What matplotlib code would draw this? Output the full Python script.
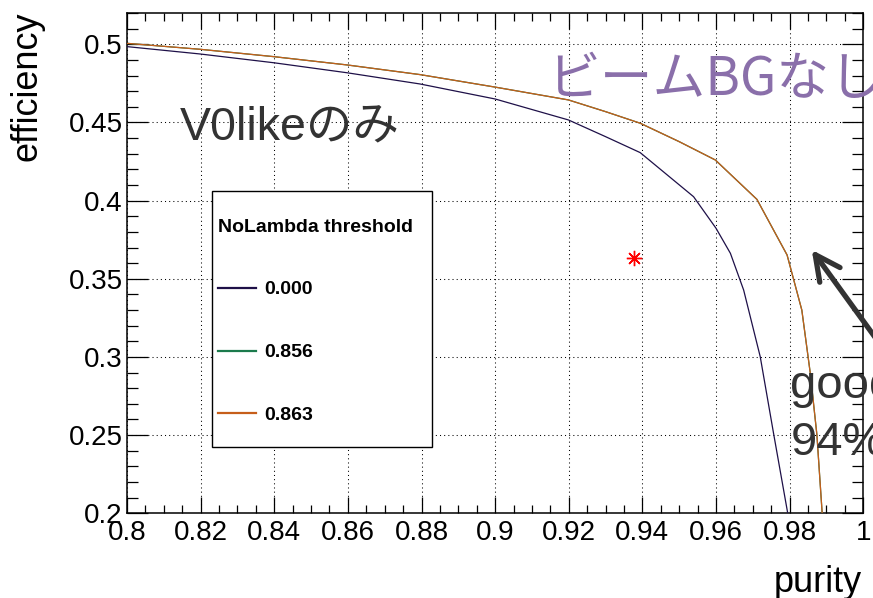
import matplotlib
matplotlib.use("Agg")
import matplotlib.pyplot as plt
from matplotlib.ticker import FixedLocator, MultipleLocator
from matplotlib.patches import Rectangle

# ---- data -------------------------------------------------------------
purity_000 = [0.8000, 0.8198, 0.8398, 0.8597, 0.8796, 0.9000, 0.9199, 0.9300,
              0.9394, 0.9539, 0.9600, 0.9639, 0.9675, 0.9720, 0.9757, 0.9794, 0.9799]
eff_000 = [0.4985, 0.4938, 0.4882, 0.4818, 0.4746, 0.4650, 0.4516, 0.4409,
           0.4307, 0.4025, 0.3823, 0.3663, 0.3428, 0.3002, 0.2501, 0.2010, 0.1920]

purity_856 = [0.8000, 0.8198, 0.8398, 0.8597, 0.8796, 0.9000, 0.9199, 0.9300,
              0.9394, 0.9500, 0.9598, 0.9711, 0.9793, 0.9833, 0.9856, 0.9874,
              0.9888, 0.9891]
eff_856 = [0.5006, 0.4968, 0.4921, 0.4868, 0.4806, 0.4726, 0.4644, 0.4569,
           0.4495, 0.4377, 0.4260, 0.4008, 0.3652, 0.3300, 0.2896, 0.2501,
           0.2010, 0.1920]

purity_863 = [0.8000, 0.8198, 0.8398, 0.8597, 0.8796, 0.9000, 0.9199, 0.9300,
              0.9394, 0.9500, 0.9598, 0.9711, 0.9793, 0.9833, 0.9856, 0.9874,
              0.9888, 0.9891]
eff_863 = [0.5006, 0.4968, 0.4921, 0.4868, 0.4806, 0.4726, 0.4644, 0.4569,
           0.4495, 0.4377, 0.4260, 0.4008, 0.3652, 0.3300, 0.2896, 0.2501,
           0.2010, 0.1920]

labels = ["0.000", "0.856", "0.863"]
legend_title = "NoLambda threshold"

point_purity = [0.9376]
point_eff = [0.3631]

xticks = [0.80, 0.82, 0.84, 0.86, 0.88, 0.90, 0.92, 0.94, 0.96, 0.98, 1.00]
xticklabels = ["0.8", "0.82", "0.84", "0.86", "0.88", "0.9", "0.92", "0.94", "0.96", "0.98", "1"]
yticks = [0.20, 0.25, 0.30, 0.35, 0.40, 0.45, 0.50]
yticklabels = ["0.2", "0.25", "0.3", "0.35", "0.4", "0.45", "0.5"]

# ---- figure ---------------------------------------------------------
latin = ["Liberation Sans", "Noto Sans CJK JP"]
plt.rcParams["font.family"] = latin

W, H = 873, 598
fig = plt.figure(figsize=(W / 100, H / 100), dpi=100)
L, R, T, B = 127, 863.3, 13.0, 513.3
ax = fig.add_axes([L / W, 1 - B / H, (R - L) / W, (B - T) / H])


def ax_x(px):
    return (px - L) / (R - L)


def ax_y(py):
    return (B - py) / (B - T)


ax.set_xlim(0.8, 1.0)
ax.set_ylim(0.2, 0.52)

c_navy = "#1e1048"
c_green = "#1b7a4c"
c_orange = "#c65e1a"

ax.plot(purity_000, eff_000, color=c_navy, lw=0.9, label=labels[0], zorder=3)
ax.plot(purity_856, eff_856, color=c_green, lw=0.9, label=labels[1], zorder=3)
ax.plot(purity_863, eff_863, color=c_orange, lw=0.9, label=labels[2], zorder=3)
ax.plot(point_purity, point_eff, linestyle="none", marker=(8, 2, 0),
        markersize=11, markeredgewidth=1.0, color="red", zorder=4)

# ticks
ax.xaxis.set_major_locator(FixedLocator(xticks))
ax.set_xticklabels(xticklabels)
ax.yaxis.set_major_locator(FixedLocator(yticks))
ax.set_yticklabels(yticklabels)
ax.xaxis.set_minor_locator(MultipleLocator(0.005))
ax.yaxis.set_minor_locator(MultipleLocator(0.01))
ax.tick_params(axis="both", which="both", direction="in", top=True, right=True,
               width=0.9, color="black")
ax.tick_params(axis="x", which="major", length=11.5, labelsize=20, pad=5)
ax.tick_params(axis="x", which="minor", length=6)
ax.tick_params(axis="y", which="major", length=15, labelsize=20, pad=3)
ax.tick_params(axis="y", which="minor", length=8)
for s in ax.spines.values():
    s.set_linewidth(1.1)

ax.grid(True, which="major", color="black", linewidth=0.75,
        linestyle=(0, (1, 3)))
ax.set_axisbelow(True)

# axis labels
ax.set_xlabel("purity", fontsize=26, loc="right")
ax.xaxis.set_label_coords(ax_x(862), ax_y(565))
ax.set_ylabel("efficiency", fontsize=26, loc="top")
ax.yaxis.set_label_coords(ax_x(45), ax_y(11))

# legend box + legend
box = Rectangle((ax_x(211.7), ax_y(447.3)), ax_x(432.3) - ax_x(211.7),
                ax_y(190.7) - ax_y(447.3), transform=ax.transAxes,
                facecolor="white", edgecolor="black", linewidth=1.0, zorder=5)
ax.add_patch(box)
leg = ax.legend(title=legend_title, loc="upper left",
                bbox_to_anchor=(ax_x(218), ax_y(218.5)),
                borderaxespad=0, frameon=False, borderpad=0,
                labelspacing=2.33, handlelength=1.95, handletextpad=0.45,
                alignment="left",
                prop={"family": "Liberation Sans", "weight": "bold", "size": 14},
                title_fontproperties={"family": "Liberation Sans", "weight": "bold",
                                      "size": 14})
leg.set_zorder(6)
for ln in leg.get_lines():
    ln.set_linewidth(1.6)

# annotations
ax.text(0.8144, 0.4388, "V0likeのみ", fontsize=33.5, color="#333333",
        va="baseline", ha="left", family=latin)
ax.text(0.9140, 0.4676, "ビームBGなし", fontsize=38, color="#8a6faa",
        va="baseline", ha="left", family=["Noto Sans CJK JP", "DejaVu Sans"])
ax.text(0.9802, 0.2737, "good", fontsize=34, color="#333333",
        va="baseline", ha="left", family=latin)
ax.text(0.9802, 0.2373, "94%", fontsize=34, color="#333333",
        va="baseline", ha="left", family=latin)
ax.annotate("", xy=(0.9860, 0.3685), xytext=(1.0051, 0.3064),
            arrowprops=dict(arrowstyle="->,head_length=0.9,head_width=0.45",
                            lw=3.8, color="#333333", mutation_scale=20,
                            shrinkA=0, shrinkB=0),
            annotation_clip=False)

fig.savefig("out.png", dpi=100)
